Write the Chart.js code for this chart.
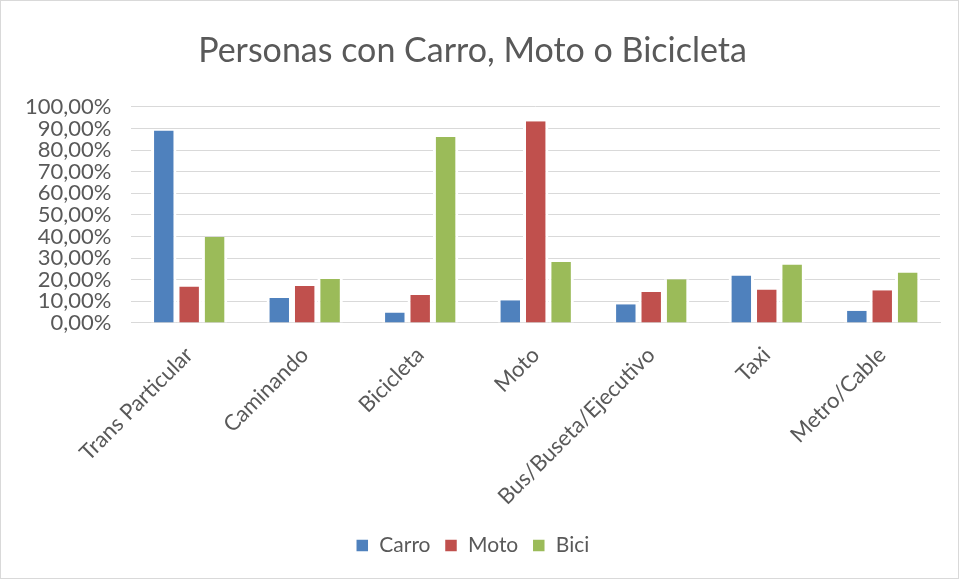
<!DOCTYPE html>
<html>
<head>
<meta charset="utf-8">
<script src="https://cdn.jsdelivr.net/npm/chart.js@4"></script>
<style>
  html, body { margin: 0; padding: 0; background: #fff; }
  #wrap { position: absolute; left: 0; top: 0; width: 959px; height: 579px; box-sizing: border-box; border: 1px solid #d9d9d9; }
</style>
</head>
<body>
<div id="wrap"><canvas id="chart"></canvas></div>
<script>
const categories = ["Trans Particular", "Caminando", "Bicicleta", "Moto", "Bus/Buseta/Ejecutivo", "Taxi", "Metro/Cable"];
const carro = [89.0, 11.6, 4.8, 10.5, 8.7, 22.0, 5.7];
const moto = [16.9, 17.1, 12.9, 93.3, 14.3, 15.5, 15.2];
const bici = [39.8, 20.3, 86.0, 28.2, 20.2, 27.0, 23.3];

const textColor = "#595959";
const font = "Lato, 'Open Sans', sans-serif";

function makeSet(label, data, color) {
  return {
    label: label,
    data: data,
    backgroundColor: color,
    borderColor: "#ffffff",
    borderWidth: { left: 3, right: 3, top: 0, bottom: 0 },
    barPercentage: 1,
    categoryPercentage: 0.66
  };
}

const ctx = document.getElementById("chart").getContext("2d");
new Chart(ctx, {
  type: "bar",
  data: {
    labels: categories,
    datasets: [
      makeSet("Carro", carro, "#4f81bd"),
      makeSet("Moto", moto, "#c0504d"),
      makeSet("Bici", bici, "#9bbb59")
    ]
  },
  options: {
    responsive: true,
    maintainAspectRatio: false,
    animation: false,
    layout: { padding: { left: 4, right: 18, top: 30, bottom: 12 } },
    plugins: {
      title: {
        display: true,
        text: "Personas con Carro, Moto o Bicicleta",
        color: textColor,
        font: { family: font, size: 34, weight: "normal" },
        padding: { top: 0, bottom: 35 }
      },
      legend: {
        position: "bottom",
        labels: {
          color: textColor,
          font: { family: font, size: 21 },
          boxWidth: 13,
          boxHeight: 13,
          padding: 14
        }
      },
      tooltip: { enabled: false }
    },
    scales: {
      x: {
        grid: { display: false },
        border: { color: "#d9d9d9" },
        ticks: {
          color: textColor,
          font: { family: font, size: 22 },
          padding: 11,
          minRotation: 45,
          maxRotation: 45
        }
      },
      y: {
        min: 0,
        max: 100,
        grid: { color: "#d9d9d9", drawTicks: false },
        border: { display: false },
        ticks: {
          stepSize: 10,
          autoSkip: false,
          padding: 20,
          color: textColor,
          font: { family: font, size: 22 },
          callback: v => v.toFixed(2).replace(".", ",") + "%"
        }
      }
    }
  }
});
</script>
</body>
</html>
